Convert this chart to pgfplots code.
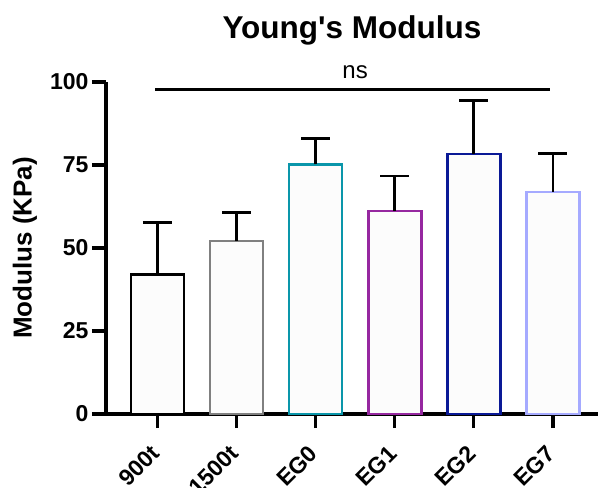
\documentclass[border=0pt]{standalone}
\usepackage{fontspec}
\setmainfont{Liberation Sans}
\usepackage{pgfplots}
\pgfplotsset{compat=1.18}
\definecolor{cGray}{RGB}{128,128,128}
\definecolor{cTeal}{RGB}{10,150,170}
\definecolor{cPurple}{RGB}{150,40,160}
\definecolor{cNavy}{RGB}{10,25,150}
\definecolor{cLav}{RGB}{165,170,255}
\definecolor{barfill}{RGB}{252,252,252}
\begin{document}
\begin{tikzpicture}
\useasboundingbox (-106pt,-73pt) rectangle (493pt,414pt);
\begin{axis}[
  at={(0,0)}, anchor=south west,
  scale only axis, width=492pt, height=332pt,
  ybar, bar width=53pt, bar shift=0pt,
  xmin=-0.65, xmax=5.57, ymin=0, ymax=100,
  axis x line=bottom, axis y line=left,
  axis line style={line width=3.3pt, -},
  every tick/.style={black, line width=3.3pt},
  tick align=outside, major tick length=14pt,
  xtick={0,1,2,3,4,5},
  xticklabels={900t,1500t,EG0,EG1,EG2,EG7},
  ytick={0,25,50,75,100},
  /pgf/number format/assume math mode=true,
  tick label style={font=\fontsize{23}{25}\selectfont\bfseries},
  yticklabel style={xshift=0pt},
  xticklabel style={rotate=45, anchor=north east, xshift=-13.4pt, yshift=-2.1pt},
  ylabel={Modulus (KPa)},
  ylabel style={font=\fontsize{26}{28}\selectfont\bfseries, at={(rel axis cs:0,0.5)}, anchor=center, yshift=81pt},
  title={Young\textquotesingle s Modulus},
  title style={font=\fontsize{31.5}{33}\selectfont\bfseries, at={(0.5,1)}, anchor=center, yshift=46pt},
  clip=false,
  error bars/y dir=plus, error bars/y explicit,
  error bars/error bar style={black, line width=2.8pt},
  error bars/error mark options={black, line width=2.8pt, mark size=14.5pt, rotate=90},
]
\addplot[draw=black, fill=barfill, line width=2.7pt] coordinates {(0,42.1) +- (0,15.7)};
\addplot[draw=cGray, fill=barfill, line width=2.7pt] coordinates {(1,52.1) +- (0,8.5)};
\addplot[draw=cTeal, fill=barfill, line width=2.7pt] coordinates {(2,75.2) +- (0,7.7)};
\addplot[draw=cPurple, fill=barfill, line width=2.7pt] coordinates {(3,61.1) +- (0,10.6)};
\addplot[draw=cNavy, fill=barfill, line width=2.7pt] coordinates {(4,78.3) +- (0,16.1)};
\addplot[draw=cLav, fill=barfill, line width=2.7pt] coordinates {(5,66.9) +- (0,11.6)};
\draw[line width=3pt] (axis cs:-0.03,97.6) -- (axis cs:4.96,97.6);
\node[font=\fontsize{24}{26}\selectfont] at (axis cs:2.5,97.6) [yshift=18pt] {ns};
\end{axis}
\end{tikzpicture}
\end{document}
